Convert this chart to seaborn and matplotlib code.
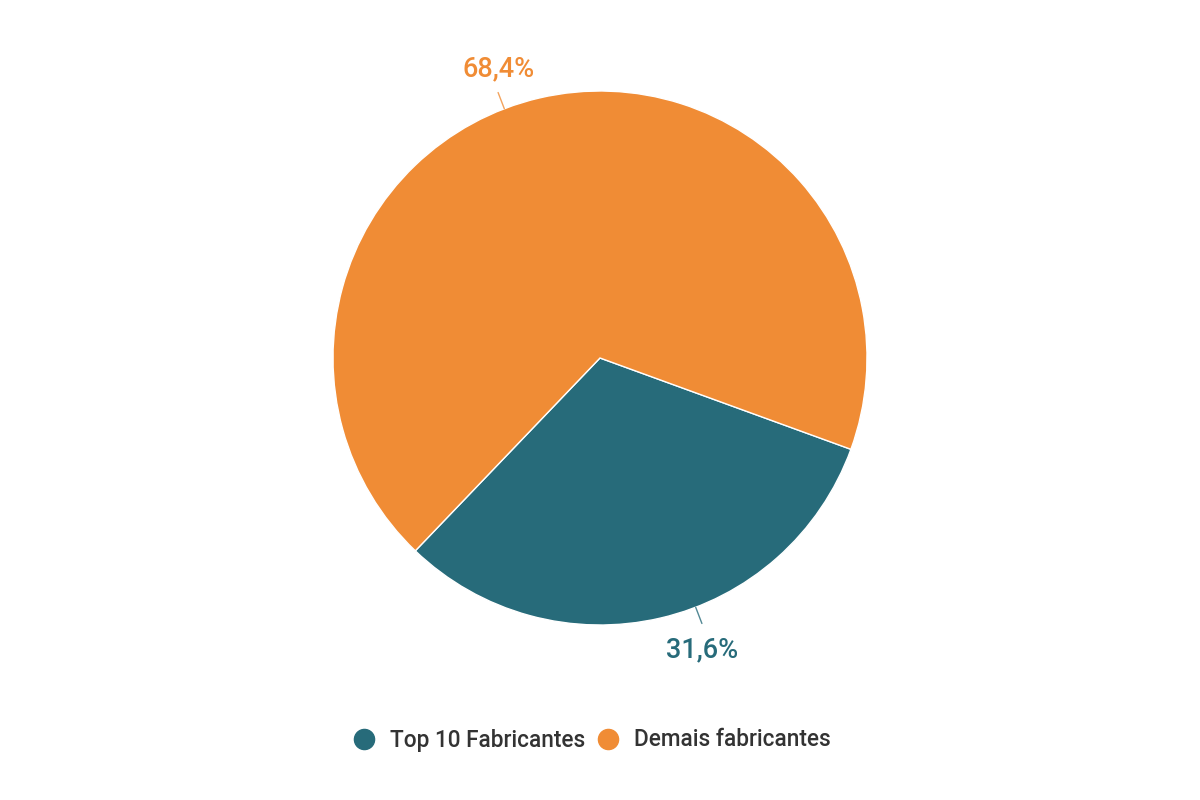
import numpy as np
import seaborn as sns
import matplotlib.pyplot as plt
from matplotlib.lines import Line2D

# Data
categories = ['Top 10 Fabricantes', 'Demais fabricantes']
shares = [31.6, 68.4]
share_labels = ['31,6%', '68,4%']
colors = ['#276b7a', '#f08c35']

sns.set_theme(style='white')
plt.rcParams['font.family'] = ['Roboto', 'DejaVu Sans']

fig = plt.figure(figsize=(12, 8), dpi=100)
# square axes so the pie sits at (600, 358) with radius ~267px
r_px = 267
ax = fig.add_axes([(600 - r_px) / 1200, (800 - 358 - r_px) / 800,
                   2 * r_px / 1200, 2 * r_px / 800])

wedges, _ = ax.pie(shares, colors=colors, startangle=-20, counterclock=False,
                   radius=1, wedgeprops={'edgecolor': 'white', 'linewidth': 1})
ax.set_xlim(-1, 1)
ax.set_ylim(-1, 1)
ax.set_aspect('equal')
ax.axis('off')

# data labels with short connectors (offset from wedge middle, as in the original)
label_angles = [-69, 111]
for ang, txt, col in zip(label_angles, share_labels, colors):
    a = np.deg2rad(ang)
    x0, y0 = np.cos(a), np.sin(a)
    x1, y1 = np.cos(a) * 1.065, np.sin(a) * 1.065
    ax.plot([x0, x1], [y0, y1], color=col, lw=1, alpha=0.8, clip_on=False)
    dy = 17 if y1 > 0 else -19
    ax.annotate(txt, (x1, y1), xytext=(0, dy), textcoords='offset points',
                color=col, fontsize=19.5, fontweight='medium',
                ha='center', va='center', annotation_clip=False)

handles = [Line2D([0], [0], marker='o', linestyle='', markersize=14.5,
                  markerfacecolor=c, markeredgecolor=c) for c in colors]
fig.legend(handles, categories, loc='center', bbox_to_anchor=(0.4885, 1 - 740 / 800),
           ncol=2, frameon=False, handletextpad=0.15, columnspacing=0.0,
           labelcolor='#333333', prop={'weight': 'medium', 'size': 16.3})

fig.savefig('out.png', dpi=100, facecolor='white')
